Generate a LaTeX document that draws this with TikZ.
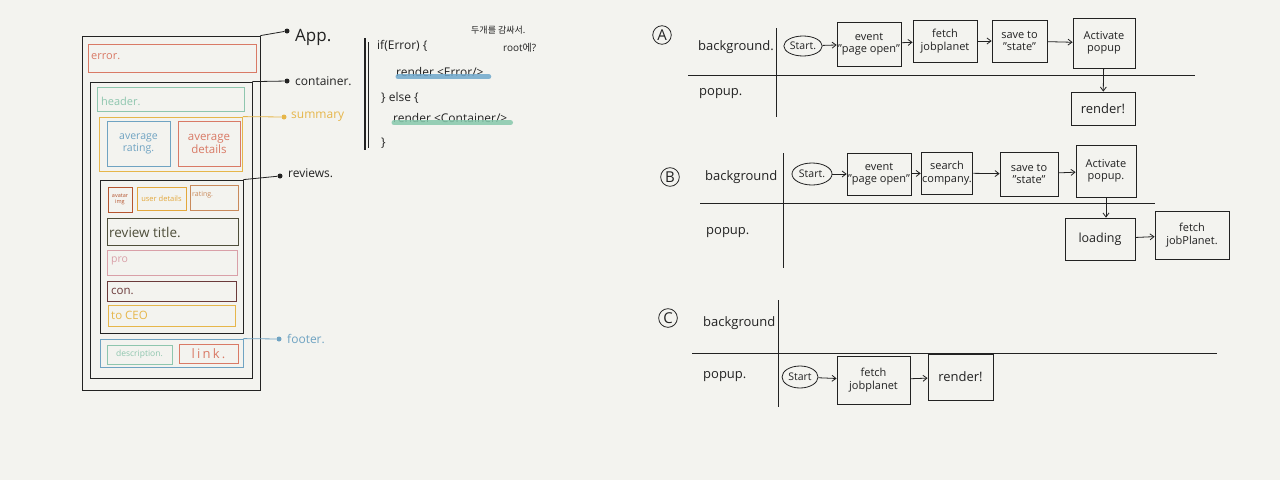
\documentclass[tikz,border=0pt]{standalone}
\usepackage{fontspec}
\setmainfont{Open Sans}
\newfontfamily\kr{Noto Sans CJK KR}
\usetikzlibrary{shapes.geometric,arrows.meta}
\definecolor{bg}{HTML}{F3F3EF}
\definecolor{ink}{HTML}{222222}
\definecolor{cred}{HTML}{D97A66}
\definecolor{cgreen}{HTML}{8EC6AE}
\definecolor{cyellow}{HTML}{E6B64A}
\definecolor{cblue}{HTML}{6FA3C2}
\definecolor{cbrown}{HTML}{B5552F}
\definecolor{corange}{HTML}{E3A83C}
\definecolor{crating}{HTML}{C98A5B}
\definecolor{colive}{HTML}{4E4E3A}
\definecolor{cpink}{HTML}{D9A0A8}
\definecolor{cmaroon}{HTML}{6B3A3A}
\definecolor{hlblue}{HTML}{6FA8CC}
\definecolor{hlgreen}{HTML}{86C8AC}
\tikzset{
  wire/.style={draw, line width=0.8pt, inner sep=0pt},
  lbl/.style={anchor=west, inner sep=1pt, text=ink},
  fbox/.style={draw=ink, line width=0.8pt, align=center, inner sep=1pt, font=\fontsize{11}{12.5}\selectfont, text=ink},
  startn/.style={draw=ink, ellipse, line width=0.8pt, inner sep=0.5pt, font=\fontsize{10.5}{11}\selectfont, text=ink},
  flow/.style={draw=ink, line width=0.8pt, -{Straight Barb[length=4pt,width=6pt]}},
  lane/.style={draw=ink, line width=0.8pt},
  letter/.style={draw=ink, circle, line width=0.8pt, inner sep=1.5pt, font=\fontsize{15}{15}\selectfont, text=ink},
  dot/.style={circle, fill=#1, inner sep=0pt, minimum size=5pt},
  hl/.style={line width=5pt, line cap=round, opacity=0.85},
}
\begin{document}
\begin{tikzpicture}[x=1pt,y=-1pt]
\useasboundingbox (0,0) rectangle (1280,480);
\fill[bg] (0,0) rectangle (1280,480);

% ---------------- left wireframe ----------------
\node[wire, draw=ink, minimum width=178, minimum height=354] (app) at (171,213) {};
\node[wire, draw=cred, minimum width=168, minimum height=28] (err) at (172,58) {};
\node[lbl, text=cred, font=\fontsize{11}{12}\selectfont] (errt) at (90,57) {error.};
\node[wire, draw=ink, minimum width=162, minimum height=296] (cont) at (171,230) {};
\node[wire, draw=cgreen, minimum width=147, minimum height=24] (hdr) at (171,99) {};
\node[lbl, text=cgreen, font=\fontsize{11}{12}\selectfont] (hdrt) at (100,101) {header.};
\node[wire, draw=cyellow, minimum width=143, minimum height=54] (sum) at (171,144) {};
\node[wire, draw=cblue, minimum width=63, minimum height=45, align=center, text=cblue, font=\fontsize{10.5}{12}\selectfont] (avr) at (138.5,143.5) {average\\rating.};
\node[wire, draw=cred, minimum width=62, minimum height=45, align=center, text=cred, font=\fontsize{11.5}{13}\selectfont] (avd) at (209,143.5) {average\\details};
\node[wire, draw=ink, minimum width=143, minimum height=153] (rev) at (171.5,256.5) {};
\node[wire, draw=cbrown, minimum width=24, minimum height=25, align=center, text=cbrown, font=\fontsize{5.5}{6.5}\selectfont] (ava) at (120,199.5) {avatar\\img};
\node[wire, draw=corange, minimum width=49, minimum height=23, text=corange, font=\fontsize{7.5}{8}\selectfont] (usr) at (161.5,198.5) {user details};
\node[wire, draw=crating, minimum width=48, minimum height=25] (rat) at (214,197.5) {};
\node[lbl, text=crating, font=\fontsize{7}{8}\selectfont] (ratt) at (191,195) {rating.};
\node[wire, draw=colive, minimum width=131, minimum height=27] (rtt) at (172.5,231.5) {};
\node[lbl, text=colive, font=\fontsize{13.5}{14}\selectfont] (rttt) at (108,232) {review title.};
\node[wire, draw=cpink, minimum width=130, minimum height=25] (pro) at (172,262.5) {};
\node[lbl, text=cpink, font=\fontsize{10.5}{11}\selectfont] (prot) at (110,261) {pro};
\node[wire, draw=cmaroon, minimum width=129, minimum height=20] (con) at (171.5,291) {};
\node[lbl, text=cmaroon, font=\fontsize{11.5}{12}\selectfont] (cont2) at (110,291) {con.};
\node[wire, draw=cyellow, minimum width=127, minimum height=21] (ceo) at (171.5,315.5) {};
\node[lbl, text=cyellow, font=\fontsize{11.5}{12}\selectfont] (ceot) at (110,315) {to CEO};
\node[wire, draw=cblue, minimum width=143, minimum height=28] (foot) at (171.5,353) {};
\node[wire, draw=cgreen, minimum width=65, minimum height=19, text=cgreen, font=\fontsize{8.5}{9}\selectfont] (desc) at (139.5,354.5) {description.};
\node[wire, draw=cred, minimum width=59, minimum height=19, text=cred, font=\fontsize{13}{13}\selectfont] (link) at (208.5,353.5) {l\,i\,n\,k\,.};

% labels on the right of the wireframe
\node[dot=ink] (appd) at (287,31) {};
\node[lbl, font=\fontsize{17}{18}\selectfont] (appl) at (294,37) {App.};
\draw[ink, line width=0.8pt] (app.north east) -- (appd);
\node[dot=ink] (contd) at (287,81) {};
\node[lbl, font=\fontsize{12}{13}\selectfont] (contl) at (294,81) {container.};
\draw[ink, line width=0.8pt] (cont.north east) -- (contd);
\node[dot=cyellow] (sumd) at (284,117) {};
\node[lbl, text=cyellow, font=\fontsize{12}{13}\selectfont] (suml) at (290,117) {summary};
\draw[cyellow, line width=0.8pt] (sum.north east) -- (sumd);
\node[dot=ink] (revd) at (280,176) {};
\node[lbl, font=\fontsize{12}{13}\selectfont] (revl) at (287,173) {reviews.};
\draw[ink, line width=0.8pt] (rev.north east) -- (revd);
\node[dot=cblue] (footd) at (279,339) {};
\node[lbl, text=cblue, font=\fontsize{12}{13}\selectfont] (footl) at (286,339) {footer.};
\draw[cblue, line width=0.8pt] (foot.north east) -- (footd);

% ---------------- code ----------------
\draw[ink, line width=1.6pt] (365,38) -- (365,150);
\draw[ink, line width=0.6pt] (368,42) -- (368,148);
\node[lbl, font=\fontsize{12}{13}\selectfont] (c1) at (376,46) {if(Error) \{};
\node[lbl, font=\fontsize{12}{13}\selectfont] (c2) at (395,72) {render <Error/>};
\draw[hlblue, hl] ([xshift=3,yshift=1]c2.south west) -- ([xshift=4,yshift=1]c2.south east);
\node[lbl, font=\fontsize{12}{13}\selectfont] (c3) at (380,98) {\} else \{};
\node[lbl, font=\fontsize{12}{13}\selectfont] (c4) at (392,118) {render <Container/>};
\draw[hlgreen, hl] ([xshift=2,yshift=1]c4.south west) -- ([xshift=2,yshift=1]c4.south east);
\node[lbl, font=\fontsize{12}{13}\selectfont] (c5) at (380,143) {\}};
\node[lbl, font=\kr\fontsize{9}{10}\selectfont] (k1) at (470,30) {두개를 감싸서.};
\node[lbl, font=\fontsize{10}{11}\selectfont] (k2) at (502,48) {root{\kr 에}?};

% ---------------- A ----------------
\node[letter] (la) at (662,35) {A};
\node[lbl, font=\fontsize{13}{14}\selectfont] (bga) at (697,47) {background.};
\node[lbl, font=\fontsize{13}{14}\selectfont] (ppa) at (698,94) {popup.};
\coordinate (av1) at (776,28); \coordinate (av2) at (776,117);
\coordinate (ah1) at (688,75); \coordinate (ah2) at (1195,75);
\draw[lane] (av1) -- (av2);
\draw[lane] (ah1) -- (ah2);
\node[startn, minimum width=38, minimum height=20] (sa) at (803,46) {Start.};
\node[fbox, minimum width=52, minimum height=44] (ea) at (869,44) {event\\"page open"};
\node[fbox, minimum width=64, minimum height=42] (fa) at (945,41) {fetch\\jobplanet};
\node[fbox, minimum width=55, minimum height=42] (sva) at (1019.5,41) {save to\\"state"};
\node[fbox, minimum width=62, minimum height=50] (aca) at (1104,43) {Activate\\popup};
\node[fbox, minimum width=64, minimum height=33, font=\fontsize{13}{14}\selectfont] (ra) at (1103,108.5) {render!};
\draw[flow] (sa) -- (ea);
\draw[flow] (ea) -- (fa);
\draw[flow] (fa) -- (sva);
\draw[flow] (sva) -- (aca);
\draw[flow] (aca) -- (ra);

% ---------------- B ----------------
\node[letter] (lb) at (670,177) {B};
\node[lbl, font=\fontsize{13}{14}\selectfont] (bgb) at (704,177) {background};
\node[lbl, font=\fontsize{13}{14}\selectfont] (ppb) at (705,233) {popup.};
\coordinate (bv1) at (783,153); \coordinate (bv2) at (783,268);
\coordinate (bh1) at (700,203); \coordinate (bh2) at (1155,203);
\draw[lane] (bv1) -- (bv2);
\draw[lane] (bh1) -- (bh2);
\node[startn, minimum width=40, minimum height=22] (sb) at (812,174) {Start.};
\node[fbox, minimum width=58, minimum height=42] (eb) at (879,174) {event\\"page open"};
\node[fbox, minimum width=50, minimum height=42] (scb) at (947,173) {search\\company.};
\node[fbox, minimum width=58, minimum height=44] (svb) at (1029,174) {save to\\"state"};
\node[fbox, minimum width=60, minimum height=52] (acb) at (1106,171) {Activate\\popup.};
\node[fbox, minimum width=70, minimum height=42, font=\fontsize{12.5}{13}\selectfont] (ldb) at (1100,239) {loading};
\node[fbox, minimum width=74, minimum height=48] (fb) at (1192,235) {fetch\\jobPlanet.};
\draw[flow] (sb) -- (eb);
\draw[flow] (eb) -- (scb);
\draw[flow] (scb) -- (svb);
\draw[flow] (svb) -- (acb);
\draw[flow] (acb.south) -- (ldb.north -| acb.south);
\draw[flow] (ldb) -- (fb);

% ---------------- C ----------------
\node[letter] (lc) at (668,318) {C};
\node[lbl, font=\fontsize{13}{14}\selectfont] (bgc) at (702,323) {background};
\node[lbl, font=\fontsize{13}{14}\selectfont] (ppc) at (702,377) {popup.};
\coordinate (cv1) at (778,300); \coordinate (cv2) at (778,407);
\coordinate (ch1) at (692,353); \coordinate (ch2) at (1217,353);
\draw[lane] (cv1) -- (cv2);
\draw[lane] (ch1) -- (ch2);
\node[startn, minimum width=36, minimum height=22] (sc) at (800,377) {Start};
\node[fbox, minimum width=73, minimum height=48] (fc) at (873.5,380) {fetch\\jobplanet};
\node[fbox, minimum width=65, minimum height=46, font=\fontsize{13}{14}\selectfont] (rc) at (960.5,377) {render!};
\draw[flow] (sc) -- (fc);
\draw[flow] (fc) -- (rc);
\end{tikzpicture}
\end{document}
